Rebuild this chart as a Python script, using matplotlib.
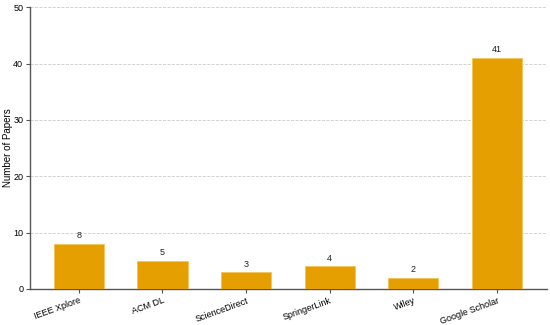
import matplotlib
matplotlib.use("Agg")
import matplotlib.pyplot as plt

plt.rcParams['font.family'] = ['Liberation Sans', 'DejaVu Sans']

sources = ["IEEE Xplore", "ACM DL", "ScienceDirect", "SpringerLink", "Wiley", "Google Scholar"]
papers = [8, 5, 3, 4, 2, 41]

fig = plt.figure(figsize=(5.5, 3.25), dpi=100)
ax = fig.add_axes([0.055, 0.111, 0.94, 0.867])

x = range(len(sources))
ax.bar(x, papers, width=0.6, color="#E69F00", edgecolor="#F2C45A", linewidth=0.6, zorder=3)
for xi, v in zip(x, papers):
    ax.text(xi, v + 0.6, str(v), ha="center", va="bottom", fontsize=6.5, color="#222222")

ax.set_xlim(-0.58, 5.6)
ax.set_ylim(0, 50)
ax.set_yticks([0, 10, 20, 30, 40, 50])
ax.set_xticks(list(x))
ax.set_xticklabels(sources, rotation=20, ha="right", rotation_mode="anchor", fontsize=6.5)
ax.tick_params(axis="y", labelsize=6.5, length=3, pad=2, color="#555555")
ax.tick_params(axis="x", length=3, pad=2, color="#555555")
ax.set_ylabel("Number of Papers", fontsize=7)
ax.yaxis.set_label_coords(-0.034, 0.5)

ax.grid(axis="y", linestyle="--", color="#cccccc", linewidth=0.6, zorder=0)
for s in ["top", "right"]:
    ax.spines[s].set_visible(False)
for s in ["left", "bottom"]:
    ax.spines[s].set_color("#555555")
    ax.spines[s].set_linewidth(1.0)

fig.savefig("out.png", dpi=100)
